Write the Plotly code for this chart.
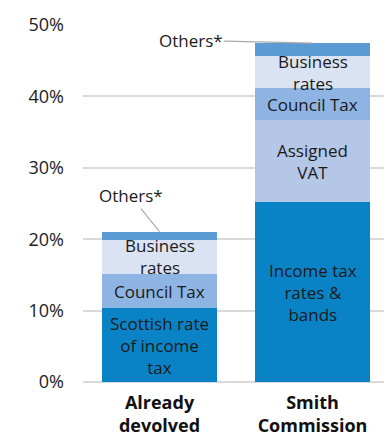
import plotly.graph_objects as go

# Share of Scottish Parliament spending funded by devolved taxes (%)
categories = ["Already devolved", "Smith Commission"]
tick_text = ["<b>Already<br>devolved</b>", "<b>Smith<br>Commission</b>"]
y_ticks = [0, 10, 20, 30, 40, 50]
y_tick_text = ["0%", "10%", "20%", "30%", "40%", "50%"]

segment_names = ["Income tax", "Assigned VAT", "Council Tax", "Business rates", "Others*"]
segment_labels = {
    "Already devolved": ["Scottish rate<br>of income<br>tax", "", "Council Tax", "Business<br>rates", ""],
    "Smith Commission": ["Income tax<br>rates &<br>bands", "Assigned<br>VAT", "Council Tax", "Business<br>rates", ""],
}
already_devolved = [10.3, 0.0, 4.8, 4.85, 1.1]
smith_commission = [25.15, 11.55, 4.45, 4.5, 1.8]
colors = ["#0A83C6", "#B4C7E7", "#8EB4E3", "#DAE3F3", "#5B9BD5"]

values = {"Already devolved": already_devolved, "Smith Commission": smith_commission}

fig = go.Figure()
for i, name in enumerate(segment_names):
    fig.add_trace(go.Bar(
        x=categories,
        y=[values[c][i] for c in categories],
        name=name,
        marker=dict(color=colors[i], line=dict(width=0)),
        width=0.75,
        hoverinfo="skip",
    ))

annotations = []
# Segment labels centred in each stacked block
for c in categories:
    base = 0.0
    for i, v in enumerate(values[c]):
        label = segment_labels[c][i]
        if label and v > 0:
            annotations.append(dict(
                x=c, y=base + v / 2, xref="x", yref="y", text=label,
                showarrow=False, font=dict(size=17, color="#1a1a1a"),
                align="center",
            ))
        base += v

# Callouts for the thin "Others" block at the top of each bar
others_offsets = {"Already devolved": (-29, -36), "Smith Commission": (-122, -3)}
for c in categories:
    total = sum(values[c])
    ax, ay = others_offsets[c]
    annotations.append(dict(
        x=c, y=total, xref="x", yref="y", text="Others*",
        showarrow=True, arrowhead=0, arrowwidth=1.2, arrowcolor="#aaaaaa",
        ax=ax, ay=ay, font=dict(size=17, color="#1a1a1a"),
    ))

fig.update_layout(
    barmode="stack",
    width=384, height=436,
    margin=dict(l=83, r=0, t=25, b=54, pad=0, autoexpand=False),
    paper_bgcolor="white", plot_bgcolor="white",
    showlegend=False,
    font=dict(family="Open Sans", color="#222222"),
    annotations=annotations,
    bargap=0,
)
fig.update_xaxes(
    range=[-0.5, 1.467], automargin=False,
    tickvals=categories, ticktext=tick_text,
    tickfont=dict(size=18, color="#111111"),
    showgrid=False, zeroline=False, showline=False, ticks="",
    ticklabelstandoff=8,
)
fig.update_yaxes(
    range=[0, 50], automargin=False,
    tickvals=y_ticks, ticktext=y_tick_text,
    tickfont=dict(size=18, color="#222222"),
    showgrid=True, gridcolor="#d9d9d9", gridwidth=1.5,
    zeroline=True, zerolinecolor="#d9d9d9", zerolinewidth=1.5,
    showline=False, ticks="", ticklabelstandoff=18,
)

fig.write_html("out.html")
